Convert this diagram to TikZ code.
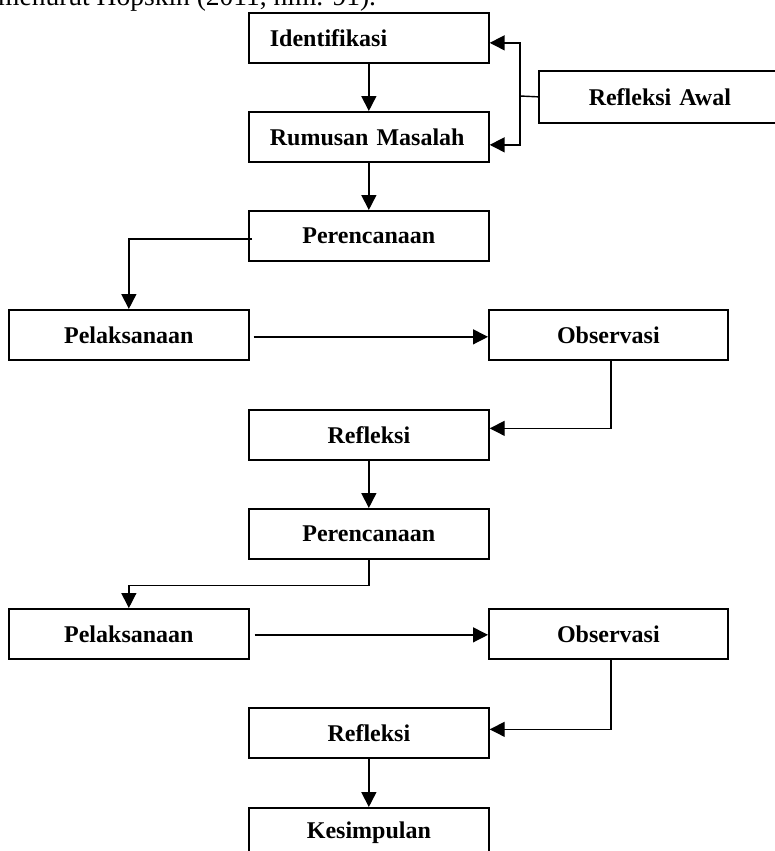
\documentclass[tikz,border=0pt]{standalone}
\usepackage{fontspec}
\setmainfont{Liberation Serif}
\usetikzlibrary{arrows.meta,calc}
\begin{document}
\begin{tikzpicture}[x=1pt,y=-1pt,
  box/.style={draw, line width=1.7pt, minimum height=50pt, inner ysep=0pt, inner xsep=21pt,
    text width=198pt, align=center, font=\fontsize{24}{28}\selectfont\bfseries, anchor=north west},
  lbox/.style={box, align=left},
  conn/.style={line width=1.6pt, -{Triangle[length=15pt,width=15pt]}},
  thinconn/.style={line width=1.3pt, -{Triangle[length=15pt,width=15pt]}},
  thinline/.style={line width=1.4pt},
]
\useasboundingbox (0,0) rectangle (775,851);
\node[anchor=base west, inner sep=0pt, font=\fontsize{27.5}{30}\selectfont] (cap) at (-2,6) {menurut Hopskin (2011, hlm. 91).};

\node[lbox] (ident) at (248,12) {Identifikasi};
\node[lbox] (rum) at (248,111) {Rumusan Masalah};
\node[box, text width=200pt, minimum height=52pt] (ra) at (538,70) {Refleksi Awal};
\node[box] (per1) at (248,210) {Perencanaan};
\node[box] (pel1) at (8,309) {Pelaksanaan};
\node[box, text width=197pt] (obs1) at (488,309) {Observasi};
\node[box] (ref1) at (248,409) {Refleksi};
\node[box] (per2) at (248,508) {Perencanaan};
\node[box] (pel2) at (8,608) {Pelaksanaan};
\node[box, text width=197pt] (obs2) at (488,608) {Observasi};
\node[box] (ref2) at (248,707) {Refleksi};
\node[box] (kes) at (248,807) {Kesimpulan};

% vertical flow
\draw[conn] (ident) -- (rum);
\draw[conn] (rum) -- (per1);
\draw[conn] (ref1) -- (per2);
\draw[conn] (ref2) -- (kes);

% Refleksi Awal bracket
\coordinate (bx) at (520,96);
\draw[thinline] (ra.west) -- (bx);
\draw[conn] (bx) |- ([yshift=-5pt]ident.east);
\draw[conn] (bx) |- ([yshift=-8pt]rum.east);

% cycle 1
\draw[conn] ([xshift=4pt,yshift=-3pt]per1.west) -| (pel1.north);
\draw[thinconn, shorten <=4pt] ([yshift=-2pt]pel1.east) -- ([yshift=-2pt]obs1.west);
\draw[thinconn] ([xshift=2.5pt]obs1.south) |- ([yshift=6.5pt]ref1.east);

% cycle 2
\draw[thinconn] (per2.south) -- ++(0,26) -| (pel2.north);
\draw[thinconn, shorten <=5pt] ([yshift=-1pt]pel2.east) -- ([yshift=-1pt]obs2.west);
\draw[thinconn] ([xshift=2.5pt]obs2.south) |- ([yshift=3.5pt]ref2.east);
\end{tikzpicture}
\end{document}
